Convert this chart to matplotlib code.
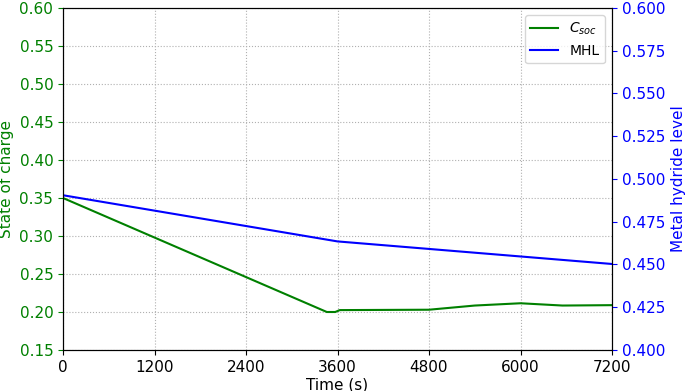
import matplotlib
matplotlib.use("Agg")
import matplotlib.pyplot as plt
import numpy as np

time_soc = [0, 3460, 3570, 3630, 4800, 5400, 6000, 6550, 7200]
soc = [0.350, 0.200, 0.200, 0.2025, 0.2030, 0.2085, 0.2115, 0.2085, 0.2090]
time_mhl = [0, 3600, 7200]
mhl = [0.4905, 0.4635, 0.4503]

fig = plt.figure(figsize=(6.85, 3.91), dpi=100)
ax = fig.add_axes([63/685, 1-350/391, (612-63)/685, (350-8)/391])
l1, = ax.plot(time_soc, soc, color='green', lw=1.5, label=r'$C_{soc}$')
ax.set_xlim(0, 7200)
ax.set_ylim(0.15, 0.60)
ax.set_xticks(np.arange(0, 7201, 1200))
ax.set_yticks(np.arange(0.15, 0.601, 0.05))
ax.set_xlabel('Time (s)', fontsize=11, labelpad=2)
ax.set_ylabel('State of charge', color='green', fontsize=11)
ax.tick_params(axis='y', colors='green', labelsize=11)
ax.tick_params(axis='x', labelsize=11)
ax.grid(True, linestyle=':', color='#b0b0b0', lw=0.8)

ax2 = ax.twinx()
l2, = ax2.plot(time_mhl, mhl, color='blue', lw=1.5, label='MHL')
ax2.set_ylim(0.40, 0.60)
ax2.set_yticks(np.arange(0.40, 0.6001, 0.025))
ax2.set_yticklabels([f'{v:.3f}' for v in np.arange(0.40, 0.6001, 0.025)])
ax2.set_ylabel('Metal hydride level', color='blue', fontsize=11)
ax2.tick_params(axis='y', colors='blue', labelsize=11)
ax2.legend([l1, l2], [r'$C_{soc}$', 'MHL'], loc='upper right', fontsize=10)

fig.savefig('out.png', dpi=100)
